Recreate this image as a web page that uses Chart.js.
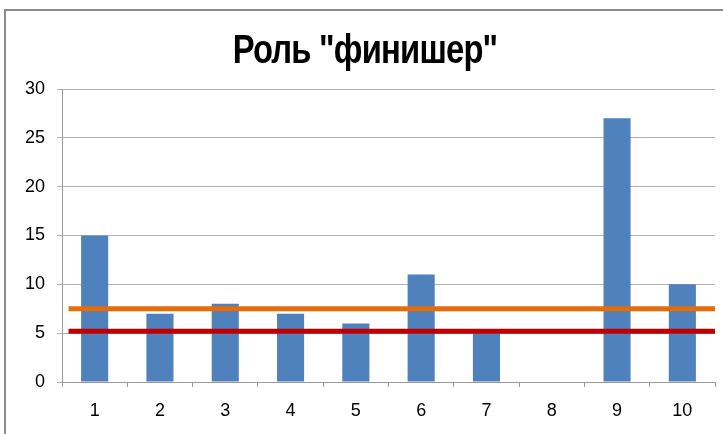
<!DOCTYPE html>
<html lang="ru">
<head>
<meta charset="utf-8">
<title>Роль "финишер"</title>
<script src="https://cdn.jsdelivr.net/npm/chart.js@4/dist/chart.umd.min.js"></script>
<style>
  html, body { margin: 0; padding: 0; background: #fff; overflow: hidden; }
  #wrap { position: relative; width: 723px; height: 434px; overflow: hidden; }
  #frame {
    position: absolute; left: 4px; top: 9px; width: 900px; height: 600px;
    border-left: 2px solid #8a8a8a; border-top: 2px solid #8a8a8a;
    box-sizing: border-box;
  }
  #chart { position: absolute; left: 0; top: 0; }
</style>
</head>
<body>
<div id="wrap">
  <div id="frame"></div>
  <canvas id="chart" width="723" height="434"></canvas>
</div>
<script>
// Chart content
const chartTitle = 'Роль "финишер"';
const categories = ['1', '2', '3', '4', '5', '6', '7', '8', '9', '10'];
const finisherCounts = [15, 7, 8, 7, 6, 11, 5, 0, 27, 10];
const yTickValues = [0, 5, 10, 15, 20, 25, 30];

// Horizontal reference levels and their extent along the category range
const upperLevel = 7.5;
const lowerLevel = 5.2;
const levelSpan = [0.1, 10];

const gridGray = '#b2b2b2';
const axisGray = '#9a9a9a';

Chart.defaults.font.family = '"Liberation Sans", Arial, sans-serif';
Chart.defaults.font.size = 18;
Chart.defaults.color = '#000';

// Condensed bold heading drawn above the plot
const titlePlugin = {
  id: 'condensedTitle',
  afterDraw(chart) {
    const ctx = chart.ctx;
    ctx.save();
    ctx.font = 'bold 41px "Liberation Sans", Arial, sans-serif';
    ctx.fillStyle = '#000';
    ctx.textAlign = 'center';
    ctx.textBaseline = 'alphabetic';
    if ('letterSpacing' in ctx) ctx.letterSpacing = '-1px';
    ctx.translate(365, 63);
    ctx.scale(0.8, 1);
    ctx.fillText(chartTitle, 0, 0);
    ctx.restore();
  }
};

const levelLine = (value, color) => ({
  type: 'line',
  xAxisID: 'lvl',
  yAxisID: 'y',
  data: levelSpan.map(x => ({ x, y: value })),
  borderColor: color,
  borderWidth: 5,
  pointRadius: 0,
  fill: false,
  order: 0
});

new Chart(document.getElementById('chart'), {
  type: 'bar',
  data: {
    labels: categories,
    datasets: [
      {
        type: 'bar',
        xAxisID: 'x',
        yAxisID: 'y',
        data: finisherCounts,
        backgroundColor: '#4f81bd',
        borderWidth: 0,
        grouped: false,
        categoryPercentage: 1,
        barPercentage: 0.415,
        order: 2
      },
      levelLine(upperLevel, '#e46c0a'),
      levelLine(lowerLevel, '#c00000')
    ]
  },
  options: {
    responsive: false,
    animation: false,
    layout: { padding: { top: 89, right: 8, left: 0, bottom: 0 } },
    plugins: { legend: { display: false }, tooltip: { enabled: false }, title: { display: false } },
    scales: {
      x: {
        type: 'category',
        axis: 'x',
        position: 'bottom',
        offset: true,
        grid: { display: true, drawOnChartArea: false, drawTicks: true, tickLength: 5, color: axisGray, offset: true },
        border: { display: true, color: axisGray, width: 1 },
        ticks: { padding: 13, font: { size: 18 }, maxRotation: 0 },
        afterFit(scale) { scale.height = 52; }
      },
      lvl: {
        type: 'linear',
        axis: 'x',
        position: 'bottom',
        display: false,
        offset: false,
        grid: { offset: false },
        min: 0,
        max: 10
      },
      y: {
        type: 'linear',
        axis: 'y',
        position: 'left',
        min: 0,
        max: 30,
        afterBuildTicks(scale) { scale.ticks = yTickValues.map(v => ({ value: v })); },
        grid: { color: gridGray, lineWidth: 1, drawTicks: true, tickLength: 5 },
        border: { display: true, color: axisGray, width: 1 },
        ticks: { padding: 12, font: { size: 18 } },
        afterFit(scale) { scale.width = 62; }
      }
    }
  },
  plugins: [titlePlugin]
});
</script>
</body>
</html>
